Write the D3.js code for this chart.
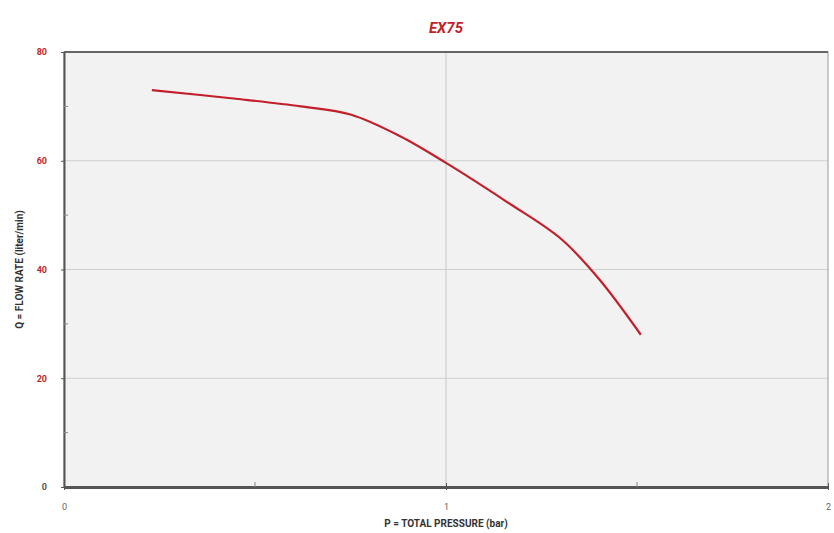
<!DOCTYPE html>
<html><head><meta charset="utf-8">
<script src="https://cdn.jsdelivr.net/npm/d3@7"></script>
<style>body{margin:0;background:#fff}svg{display:block}</style>
</head><body><svg id="c" width="834" height="533"></svg>
<script>
const title = "EX75";
const pressure = [0.23, 0.45, 0.62, 0.75, 0.88, 1.0, 1.16, 1.3, 1.4, 1.51];
const flow = [73.0, 71.4, 70.0, 68.5, 64.5, 59.6, 52.4, 45.7, 38.3, 28.0];
const xTicks = [0, 1, 2];
const xMinorTicks = [0.5, 1.5];
const yTicks = [0, 20, 40, 60, 80];
const yMinorTicks = [10, 30, 50, 70];
const xTitle = "P = TOTAL PRESSURE (bar)";
const yTitle = "Q = FLOW RATE (liter/min)";

const svg = d3.select("#c");
const L = 64, R = 828, T = 52, B = 487;
const x = d3.scaleLinear().domain([0, 2]).range([L, R]);
const y = d3.scaleLinear().domain([0, 80]).range([B, T]);
const red = "#c21f2b";

svg.append("rect").attr("x", L).attr("y", T).attr("width", R - L).attr("height", B - T).attr("fill", "#f2f2f2");

// grid
svg.append("g").selectAll("line").data(yTicks.filter(d => d > 0 && d < 80)).join("line")
  .attr("x1", L).attr("x2", R).attr("y1", d => y(d)).attr("y2", d => y(d))
  .attr("stroke", "#cfcfcf").attr("stroke-width", 1.2);
svg.append("g").selectAll("line").data(xTicks.filter(d => d > 0 && d < 2)).join("line")
  .attr("y1", T).attr("y2", B).attr("x1", d => x(d)).attr("x2", d => x(d))
  .attr("stroke", "#cfcfcf").attr("stroke-width", 1.2);

// frame
svg.append("rect").attr("x", L).attr("y", T).attr("width", R - L).attr("height", B - T)
  .attr("fill", "none").attr("stroke", "#9a9a9a").attr("stroke-width", 1);
svg.append("line").attr("x1", L).attr("x2", R).attr("y1", T).attr("y2", T).attr("stroke", "#666").attr("stroke-width", 2);

// axes
const yAxis = d3.axisLeft(y).tickValues(yTicks).tickFormat(d3.format("d")).tickSize(3).tickSizeOuter(0).tickPadding(14);
const gy = svg.append("g").attr("transform", `translate(${L},0)`).call(yAxis);
gy.select(".domain").attr("stroke", "#555").attr("stroke-width", 2);
gy.selectAll(".tick line").attr("stroke", "#555");
gy.selectAll("text").attr("fill", d => d === 0 ? "#555" : red).attr("font-family", "Roboto, sans-serif")
  .attr("font-size", 9).attr("font-weight", "bold");
svg.append("g").selectAll("line").data(yMinorTicks).join("line")
  .attr("x1", L).attr("x2", L + 4).attr("y1", d => y(d)).attr("y2", d => y(d)).attr("stroke", "#888");

const xAxis = d3.axisBottom(x).tickValues(xTicks).tickFormat(d3.format("d")).tickSize(3).tickSizeOuter(0).tickPadding(14);
const gx = svg.append("g").attr("transform", `translate(0,${B})`).call(xAxis);
gx.select(".domain").attr("stroke", "#555").attr("stroke-width", 3);
gx.selectAll(".tick line").attr("stroke", "#555").attr("y1", -4);
gx.selectAll("text").attr("fill", "#666").attr("font-family", "Roboto, sans-serif").attr("font-size", 9);
svg.append("g").selectAll("line").data(xMinorTicks).join("line")
  .attr("x1", d => x(d)).attr("x2", d => x(d)).attr("y1", B - 5).attr("y2", B).attr("stroke", "#888");

// line
const pts = pressure.map((p, i) => [p, flow[i]]);
svg.append("path").datum(pts)
  .attr("d", d3.line().x(d => x(d[0])).y(d => y(d[1])).curve(d3.curveCatmullRom.alpha(0.5)))
  .attr("fill", "none").attr("stroke", red).attr("stroke-width", 2.2);

// titles
svg.append("text").attr("x", x(1)).attr("y", 33).attr("text-anchor", "middle")
  .attr("font-family", "Roboto, sans-serif").attr("font-size", 15).attr("font-weight", "bold")
  .attr("font-style", "italic").attr("fill", red).text(title);
svg.append("text").attr("x", x(1)).attr("y", 527).attr("text-anchor", "middle")
  .attr("font-family", "Roboto, sans-serif").attr("font-size", 10).attr("font-weight", "bold")
  .attr("fill", "#333").text(xTitle);
svg.append("text").attr("transform", `translate(23,${y(40)}) rotate(-90)`).attr("text-anchor", "middle")
  .attr("font-family", "Roboto, sans-serif").attr("font-size", 10).attr("font-weight", "bold")
  .attr("fill", "#333").text(yTitle);
</script></body></html>
